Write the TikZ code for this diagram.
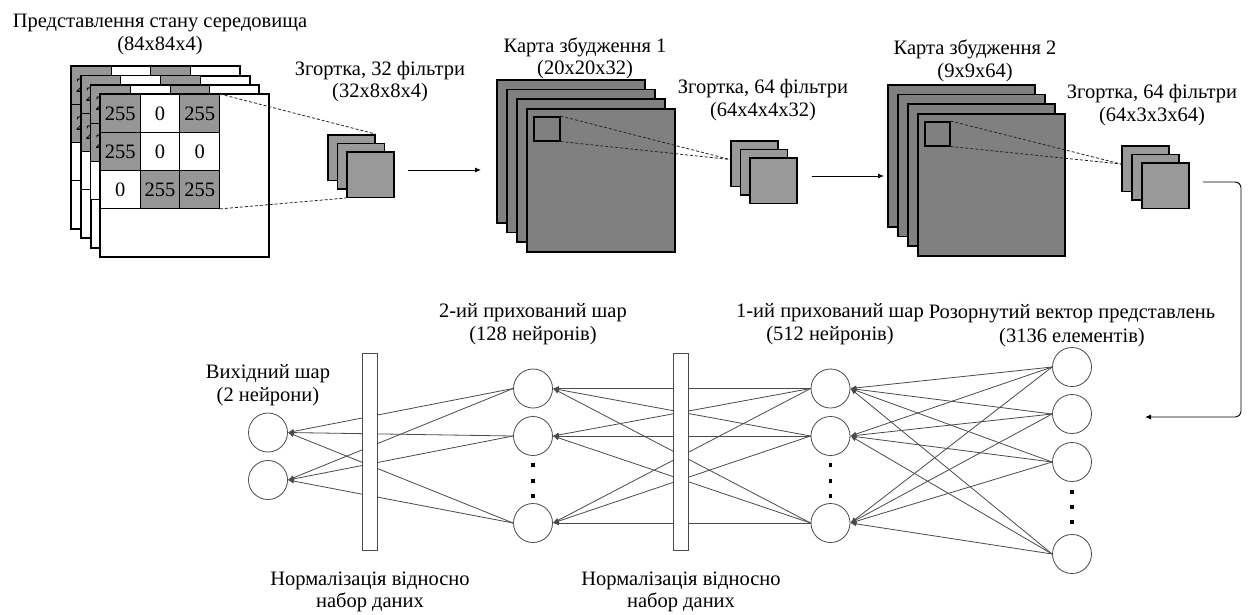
\documentclass[tikz,border=0pt]{standalone}
\usepackage{fontspec}
\setmainfont{Liberation Serif}
\usetikzlibrary{arrows.meta}

\definecolor{mapgray}{HTML}{808080}
\definecolor{filtgray}{HTML}{999999}
\definecolor{cellgray}{HTML}{969696}
\definecolor{wire}{HTML}{4A4A4A}

\begin{document}
\begin{tikzpicture}[x=1pt,y=-1pt,
  lbl/.style={font=\fontsize{20.5}{24}\selectfont, inner sep=0pt, anchor=base},
  sheet/.style={draw=black, line width=1.4pt, fill=white, inner sep=0pt,
    minimum width=168pt, minimum height=162pt, anchor=north west},
  cell/.style={draw=black, line width=0.9pt, inner sep=0pt, anchor=north west,
    minimum width=39.67pt, minimum height=38pt, font=\fontsize{20.5}{24}\selectfont},
  fmap/.style={draw=black, line width=1.6pt, fill=mapgray, inner sep=0pt,
    minimum width=148pt, minimum height=143pt, anchor=north west},
  kern/.style={draw=black, line width=1.5pt, fill=filtgray, inner sep=0pt,
    minimum width=47pt, minimum height=45.5pt, anchor=north west},
  window/.style={draw=black, line width=1.5pt, inner sep=0pt, anchor=north west},
  guide/.style={draw=black!85, line width=0.8pt, dash pattern=on 3pt off 2pt},
  flow/.style={draw=black, line width=0.9pt, -{Latex[length=6pt,width=5pt]}},
  neuron/.style={circle, draw=wire, line width=0.8pt, fill=white, inner sep=0pt,
    minimum size=39pt},
  link/.style={draw=wire, line width=0.8pt, -{Latex[length=6pt,width=5pt]}},
  normbar/.style={draw=wire, line width=0.8pt, fill=white, inner sep=0pt,
    minimum width=15pt, minimum height=197pt},
  ellip/.style={fill=black, inner sep=0pt, minimum size=3.2pt}
]
\useasboundingbox (0,0) rectangle (1253,614);

% ---------- input frames with the 3x3 pixel patch ----------
\foreach \k in {0,1,2,3}{
  \pgfmathsetmacro\lx{71+9.67*\k}
  \pgfmathsetmacro\ly{66+9.33*\k}
  \node[sheet] (in\k) at (\lx,\ly) {};
  \foreach \r/\c/\v/\f in {1/1/255/cellgray, 1/2/0/white, 1/3/255/cellgray,
                           2/1/255/cellgray, 2/2/0/white, 2/3/0/white,
                           3/1/0/white, 3/2/255/cellgray, 3/3/255/cellgray}{
    \node[cell, fill=\f] (in\k-\r\c) at (\lx+39.67*\c-39.67, \ly+38*\r-38) {\v};
  }
  \draw[line width=1.4pt] (in\k.north west) rectangle (in\k.south east);
}
\node[lbl] (tIn1) at (160,27) {Представлення стану середовища};
\node[lbl] (tIn2) at (160,50) {(84x84x4)};

% ---------- first convolution: 32 filters ----------
\node[kern] (fa0) at (327,134) {};
\node[kern] (fa1) at (336.5,142.5) {};
\node[kern] (fa2) at (346,151) {};
\draw[guide] (in3-13.north east) -- (fa0.north east);
\draw[guide] (in3-33.south east) -- (fa2.south west);
\node[lbl] (tFa1) at (380,75) {Згортка, 32 фільтри};
\node[lbl] (tFa2) at (380,97) {(32x8x8x4)};

\coordinate (ar1s) at (408,170);
\coordinate (ar1e) at (481,170);
\draw[flow] (ar1s) -- (ar1e);

% ---------- feature map 1 ----------
\foreach \k in {0,1,2,3}{
  \node[fmap] (ma\k) at (496+10*\k, 79+9.67*\k) {};
}
\node[window, minimum width=26pt, minimum height=24pt] (wa) at (533,116) {};
\coordinate (fbIn) at (730,159.5);
\node[lbl] (tMa1) at (585,52) {Карта збудження 1};
\node[lbl] (tMa2) at (585,74) {(20x20x32)};

% ---------- second convolution: 64 filters ----------
\draw[guide] (wa.north east) -- (fbIn);
\draw[guide] (wa.south east) -- (fbIn);
\node[kern] (fb0) at (730,140) {};
\node[kern] (fb1) at (739.5,148.5) {};
\node[kern] (fb2) at (749,157) {};
\node[lbl] (tFb1) at (763,93) {Згортка, 64 фільтри};
\node[lbl] (tFb2) at (763,116) {(64x4x4x32)};

\coordinate (ar2s) at (812,176);
\coordinate (ar2e) at (884,176);
\draw[flow] (ar2s) -- (ar2e);

% ---------- feature map 2 ----------
\foreach \k in {0,1,2,3}{
  \node[fmap, minimum width=147pt, minimum height=142pt] (mb\k) at (887+10*\k, 84+9.67*\k) {};
}
\node[window, minimum width=25pt, minimum height=24pt] (wb) at (924,121) {};
\coordinate (fcIn) at (1121,164);
\node[lbl] (tMb1) at (975,54) {Карта збудження 2};
\node[lbl] (tMb2) at (975,77) {(9x9x64)};

% ---------- third convolution: 64 filters ----------
\draw[guide] (wb.north east) -- (fcIn);
\draw[guide] (wb.south east) -- (fcIn);
\node[kern] (fc0) at (1121,145) {};
\node[kern] (fc1) at (1131,153.5) {};
\node[kern] (fc2) at (1141,162) {};
\node[lbl] (tFc1) at (1152,98) {Згортка, 64 фільтри};
\node[lbl] (tFc2) at (1152,121) {(64x3x3x64)};

% ---------- flatten: route down to the dense part ----------
\coordinate (ar3s) at (1203,182);
\coordinate (ar3k) at (1241,300);
\coordinate (ar3e) at (1145,417);
\draw[flow, rounded corners=6pt] (ar3s) -| (ar3k) |- (ar3e);

% ---------- dense layers ----------
% flattened vector
\node[neuron] (x1) at (1072,367) {};
\node[neuron] (x2) at (1072,414) {};
\node[neuron] (x3) at (1072,462) {};
\node[neuron] (x4) at (1072,554) {};
\node[ellip] (xd1) at (1072,492) {};
\node[ellip] (xd2) at (1072,507) {};
\node[ellip] (xd3) at (1072,522) {};
% hidden layer 1
\node[neuron] (ha1) at (830.5,388.5) {};
\node[neuron] (ha2) at (830.5,436) {};
\node[neuron] (ha3) at (830.5,523) {};
\node[ellip] (had1) at (830.5,465) {};
\node[ellip] (had2) at (830.5,481) {};
\node[ellip] (had3) at (830.5,496) {};
% hidden layer 2
\node[neuron] (hb1) at (533,388.5) {};
\node[neuron] (hb2) at (533,436) {};
\node[neuron] (hb3) at (533,523) {};
\node[ellip] (hbd1) at (533,465) {};
\node[ellip] (hbd2) at (533,481) {};
\node[ellip] (hbd3) at (533,496) {};
% output layer
\node[neuron] (o1) at (268,432.5) {};
\node[neuron] (o2) at (268,480) {};

\foreach \i in {1,2,3,4}{
  \foreach \j in {1,2,3}{
    \draw[link] (x\i.west) -- (ha\j.east);
  }
}
\foreach \i in {1,2,3}{
  \foreach \j in {1,2,3}{
    \draw[link] (ha\i.west) -- (hb\j.east);
  }
}
\foreach \i in {1,2,3}{
  \foreach \j in {1,2}{
    \draw[link] (hb\i.west) -- (o\j.east);
  }
}

% batch normalisation bars
\node[normbar] (bn1) at (369.5,451.5) {};
\node[normbar] (bn2) at (680.5,451.5) {};

% ---------- labels of the dense part ----------
\node[lbl] (tO1) at (268,378) {Вихідний шар};
\node[lbl] (tO2) at (268,401) {(2 нейрони)};
\node[lbl] (tHb1) at (533,317) {2-ий прихований шар};
\node[lbl] (tHb2) at (533,340) {(128 нейронів)};
\node[lbl] (tHa1) at (830,317) {1-ий прихований шар};
\node[lbl] (tHa2) at (830,340) {(512 нейронів)};
\node[lbl] (tX1) at (1072,318) {Розорнутий вектор представлень};
\node[lbl] (tX2) at (1072,342) {(3136 елементів)};
\node[lbl] (tBn11) at (370,585) {Нормалізація відносно};
\node[lbl] (tBn12) at (370,607) {набор даних};
\node[lbl] (tBn21) at (681,585) {Нормалізація відносно};
\node[lbl] (tBn22) at (681,607) {набор даних};
\end{tikzpicture}
\end{document}
